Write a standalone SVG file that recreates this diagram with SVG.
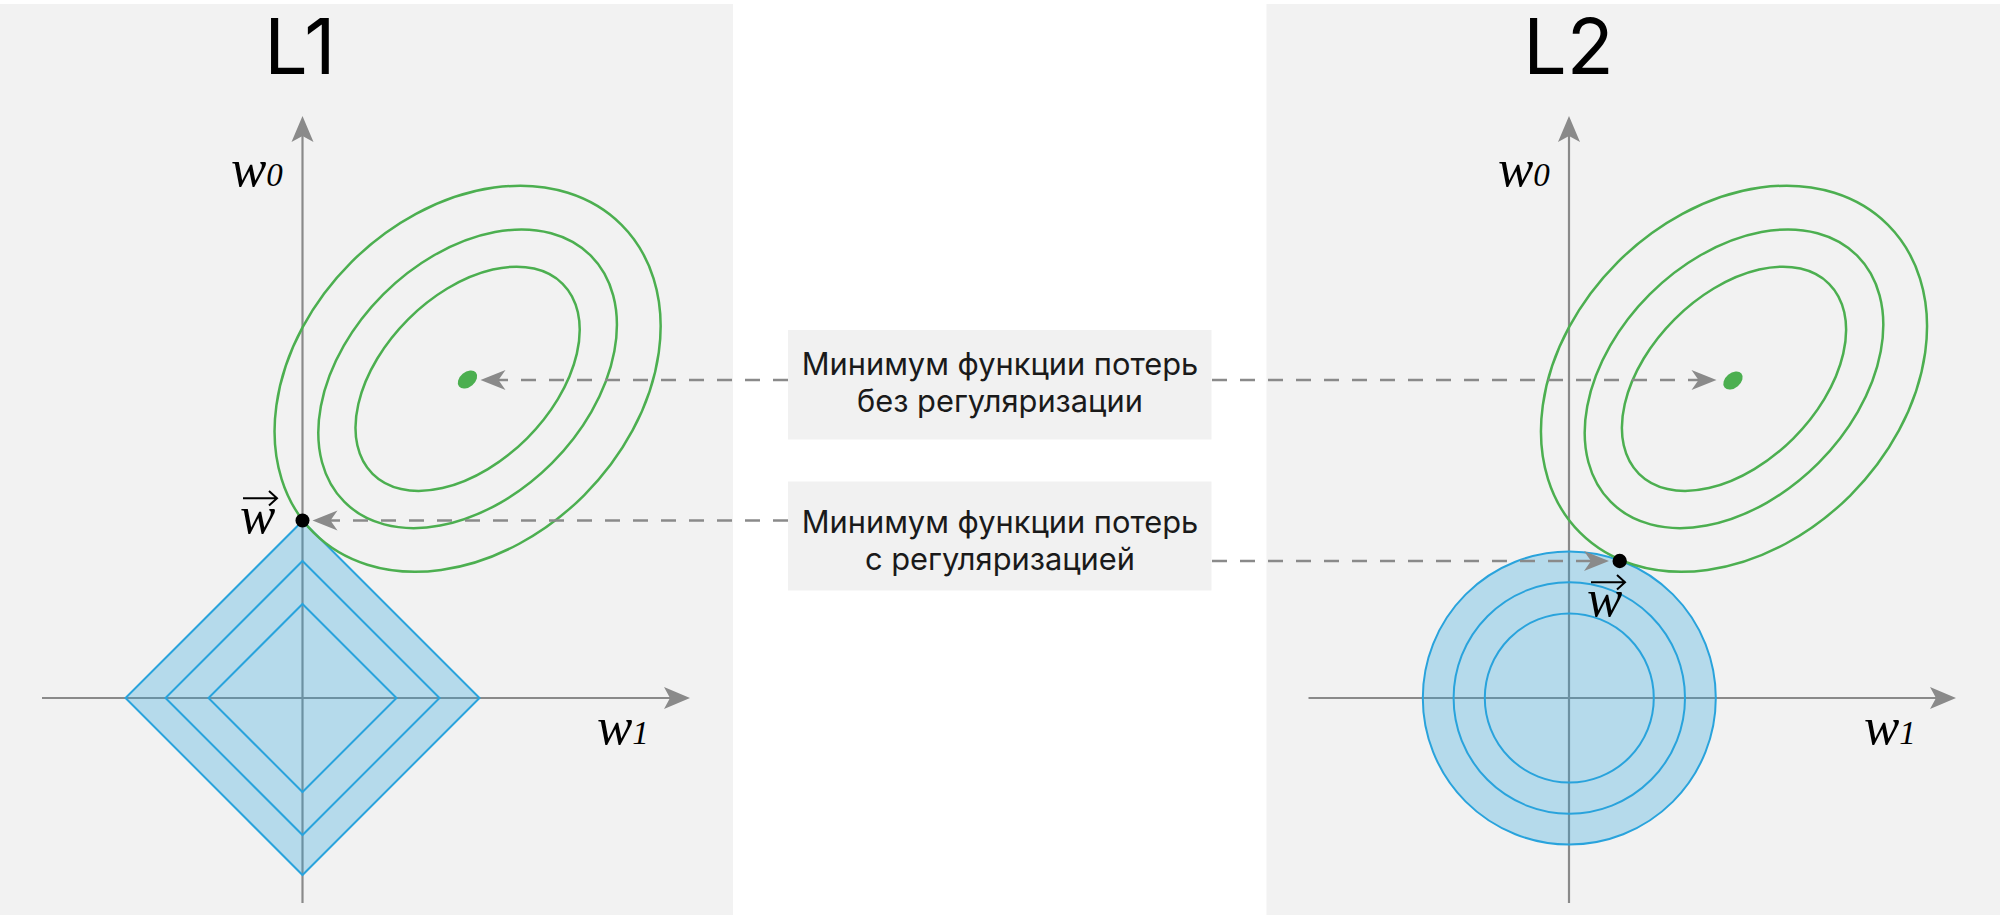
<svg xmlns="http://www.w3.org/2000/svg" width="2000" height="920" viewBox="0 0 2000 920">
<style>
.panel{fill:#f2f2f2}
.axis{stroke:#8a8a8a;stroke-width:2.2;fill:none}
.green{stroke:#4caf50;stroke-width:2.5;fill:none}
.gdot{fill:#4caf50}
.blue{stroke:#29a3dc;stroke-width:2;fill:none}
.bfill{fill:#29a3dc;fill-opacity:0.3;stroke:#29a3dc;stroke-width:2}
.dash{stroke:#8a8a8a;stroke-width:2.4;stroke-dasharray:15 13;fill:none}
.title{font-family:Inter,"Noto Sans",sans-serif;font-size:77px;fill:#000;text-anchor:middle}
.lbl{font-family:Inter,"Noto Sans",sans-serif;font-size:30.8px;fill:#1a1a1a;text-anchor:middle}
.box{fill:#f1f1f1}
.math{font-family:"Liberation Serif","Times New Roman",serif;font-style:italic;font-size:53px;fill:#000}
.vec{stroke:#000;stroke-width:2;fill:none}
</style>
<defs>
<marker id="axArr" markerUnits="userSpaceOnUse" markerWidth="30" markerHeight="26" viewBox="0 0 30 26" refX="18" refY="13" orient="auto">
<path d="M2,2 L28,13 L2,24 L8,13 Z" fill="#8a8a8a"/>
</marker>
<marker id="dArr" markerUnits="userSpaceOnUse" markerWidth="28" markerHeight="24" viewBox="0 0 28 24" refX="16" refY="12" orient="auto">
<path d="M1,2 L26,12 L1,22 L8,12 Z" fill="#8a8a8a"/>
</marker>
</defs>
<rect width="2000" height="920" fill="#ffffff"/>

<g id="panel-L1">
<rect class="panel" x="0" y="4" width="733" height="911"/>
<text class="title" x="300" y="74">L1</text>
<line class="axis" x1="302.5" y1="903" x2="302.5" y2="126" marker-end="url(#axArr)"/>
<line class="axis" x1="42" y1="698" x2="680" y2="698" marker-end="url(#axArr)"/>
<text class="math" x="231" y="186">w<tspan font-size="33">0</tspan></text>
<text class="math" x="597" y="744">w<tspan font-size="33">1</tspan></text>
<polygon class="bfill" points="302.5,521 479.5,698 302.5,875 125.5,698"/>
<polygon class="blue" points="302.5,561 439.5,698 302.5,835 165.5,698"/>
<polygon class="blue" points="302.5,604 396.5,698 302.5,792 208.5,698"/>
<ellipse class="green" cx="467.6" cy="378.8" rx="217.7" ry="164.7" transform="rotate(-45 467.6 378.8)"/>
<ellipse class="green" cx="467.6" cy="378.8" rx="174.2" ry="119.3" transform="rotate(-45 467.6 378.8)"/>
<ellipse class="green" cx="467.6" cy="378.8" rx="134.4" ry="84.1" transform="rotate(-45 467.6 378.8)"/>
<ellipse class="gdot" cx="467.5" cy="379.5" rx="11" ry="7.5" transform="rotate(-40 467.5 379.5)"/>
<circle cx="302.5" cy="520.5" r="7" fill="#000"/>
<text class="math" x="240" y="533">w</text>
<path class="vec" d="M243,498.3 H276.5 M269,491 L277,498.3 L269,505.6"/>
</g>

<g id="panel-L2">
<rect class="panel" x="1266.5" y="4" width="733.5" height="911"/>
<text class="title" x="1568.5" y="74">L2</text>
<line class="axis" x1="1569" y1="903" x2="1569" y2="126" marker-end="url(#axArr)"/>
<line class="axis" x1="1308.5" y1="698" x2="1946" y2="698" marker-end="url(#axArr)"/>
<text class="math" x="1498" y="186">w<tspan font-size="33">0</tspan></text>
<text class="math" x="1864" y="744">w<tspan font-size="33">1</tspan></text>
<circle class="bfill" cx="1569.3" cy="698" r="146.5"/>
<circle class="blue" cx="1569.3" cy="698" r="115.7"/>
<circle class="blue" cx="1569.3" cy="698" r="84.5"/>
<ellipse class="green" cx="1734" cy="378.8" rx="217.7" ry="164.7" transform="rotate(-45 1734 378.8)"/>
<ellipse class="green" cx="1734" cy="378.8" rx="174.2" ry="119.3" transform="rotate(-45 1734 378.8)"/>
<ellipse class="green" cx="1734" cy="378.8" rx="134.4" ry="84.1" transform="rotate(-45 1734 378.8)"/>
<ellipse class="gdot" cx="1733" cy="380.5" rx="11" ry="7.5" transform="rotate(-40 1733 380.5)"/>
<circle cx="1619.7" cy="561" r="7.2" fill="#000"/>
<text class="math" x="1587" y="616">w</text>
<path class="vec" d="M1591,582.3 H1624.5 M1617,575 L1625,582.3 L1617,589.6"/>
</g>

<g id="connectors">
<line class="dash" x1="788" y1="380" x2="490.5" y2="380" marker-end="url(#dArr)"/>
<line class="dash" x1="788" y1="520.5" x2="322.5" y2="520.5" marker-end="url(#dArr)"/>
<line class="dash" x1="1212" y1="380" x2="1706.5" y2="380" marker-end="url(#dArr)"/>
<line class="dash" x1="1212" y1="561" x2="1599" y2="561" marker-end="url(#dArr)"/>
</g>

<g id="label-unreg">
<rect class="box" x="788" y="330" width="423.5" height="109.5"/>
<text class="lbl" x="1000" y="375">Минимум функции потерь</text>
<text class="lbl" x="1000" y="411.5">без регуляризации</text>
</g>
<g id="label-reg">
<rect class="box" x="788" y="481.5" width="423.5" height="109"/>
<text class="lbl" x="1000" y="533">Минимум функции потерь</text>
<text class="lbl" x="1000" y="569.5">с регуляризацией</text>
</g>
</svg>
